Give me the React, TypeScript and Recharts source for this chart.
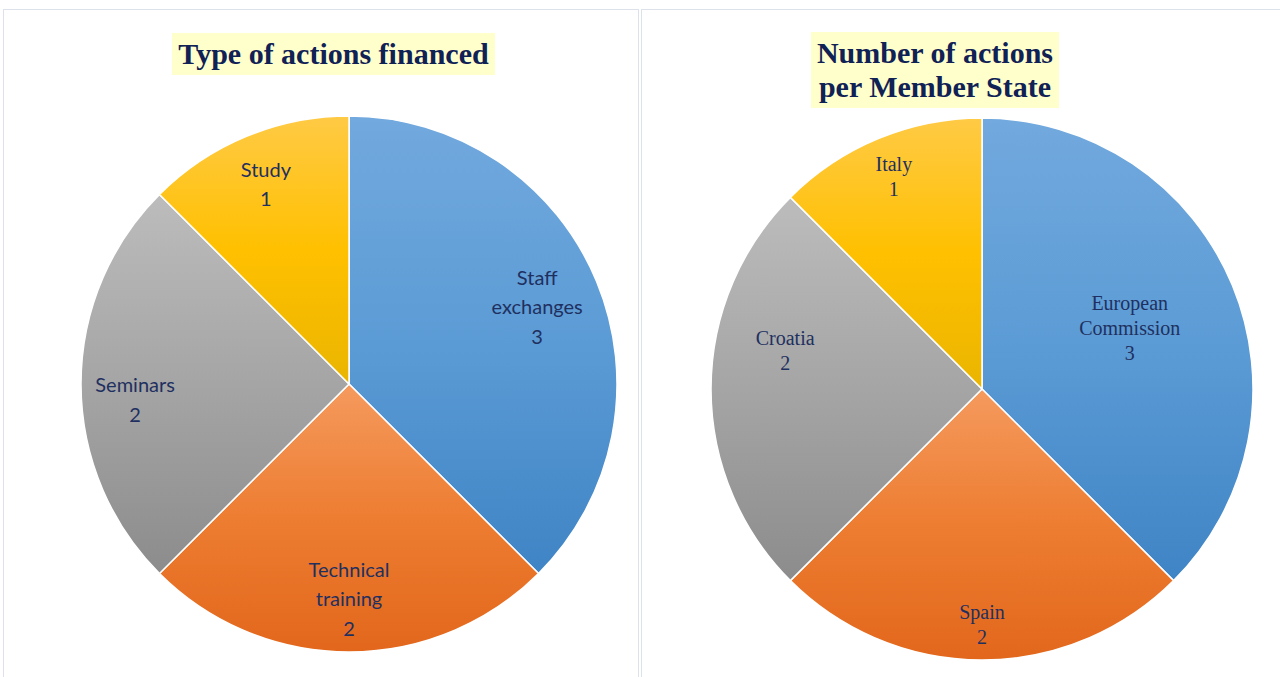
import { PieChart, Pie, Cell } from "recharts"

const actionTypes = ["Staff exchanges", "Technical training", "Seminars", "Study"]
const actionCounts = [3, 2, 2, 1]

const memberStates = ["European Commission", "Spain", "Croatia", "Italy"]
const memberCounts = [3, 2, 2, 1]

const typeData = actionTypes.map((name, i) => ({ name, value: actionCounts[i] }))
const stateData = memberStates.map((name, i) => ({ name, value: memberCounts[i] }))

// light / base / dark stops, like the office gradient fill
const gradients = [
  { id: "blue", stops: ["#72a9de", "#5b9bd5", "#3f84c5"] },
  { id: "orange", stops: ["#f59a5e", "#ed7d31", "#e2671c"] },
  { id: "gray", stops: ["#bcbcbc", "#a5a5a5", "#8c8c8c"] },
  { id: "yellow", stops: ["#ffca45", "#ffc000", "#eab500"] },
]

const RADIAN = Math.PI / 180
const labelColor = "#1f3060"

function Gradients({ prefix }: { prefix: string }) {
  return (
    <defs>
      {gradients.map((g) => (
        <linearGradient key={g.id} id={`${prefix}-${g.id}`} x1="0" y1="0" x2="0" y2="1">
          <stop offset="0%" stopColor={g.stops[0]} />
          <stop offset="50%" stopColor={g.stops[1]} />
          <stop offset="100%" stopColor={g.stops[2]} />
        </linearGradient>
      ))}
    </defs>
  )
}

function makeLabel(radii: number[], nudges: number[], font: string, size: number, lh: number) {
  return (props: any) => {
    const { cx, cy, midAngle, outerRadius, index, name, value } = props
    const ang = (midAngle + nudges[index]) * RADIAN
    const r = outerRadius * radii[index]
    const x = cx + r * Math.cos(-ang)
    const y = cy + r * Math.sin(-ang)
    const lines = [...String(name).split(" "), String(value)]
    const start = -((lines.length - 1) / 2) * lh
    return (
      <text
        x={x}
        y={y}
        textAnchor="middle"
        dominantBaseline="central"
        fill={labelColor}
        fontFamily={font}
        fontSize={size}
      >
        {lines.map((l, i) => (
          <tspan key={i} x={x} dy={i === 0 ? start : lh}>
            {l}
          </tspan>
        ))}
      </text>
    )
  }
}

const titleStyle: React.CSSProperties = {
  position: "absolute",
  background: "#ffffcc",
  color: "#0f2155",
  fontFamily: "'Liberation Serif', 'Times New Roman', serif",
  fontWeight: "bold",
  fontSize: 30,
  textAlign: "center",
  lineHeight: "34px",
  whiteSpace: "nowrap",
}

export default function App() {
  return (
    <div style={{ position: "absolute", left: 0, top: 0, width: 1280, height: 677, background: "#fff", overflow: "hidden" }}>
      <div style={{ position: "absolute", left: 3, top: 9, width: 634, height: 680, border: "1px solid #dde1e9" }} />
      <div style={{ position: "absolute", left: 641, top: 9, width: 660, height: 680, border: "1px solid #dde1e9" }} />

      <div style={{ position: "absolute", left: 4, top: 10 }}>
        <PieChart width={634} height={667} margin={{ top: 0, right: 0, bottom: 0, left: 0 }}>
          <Gradients prefix="l" />
          <Pie
            data={typeData}
            dataKey="value"
            nameKey="name"
            cx={345}
            cy={374}
            outerRadius={268}
            startAngle={90}
            endAngle={-270}
            stroke="#ffffff"
            strokeWidth={1.5}
            labelLine={false}
            label={makeLabel([0.76, 0.8, 0.8, 0.81], [0, 0, 4, 0], "Lato, 'Open Sans', sans-serif", 20, 29.5)}
            isAnimationActive={false}
          >
            {typeData.map((d, i) => (
              <Cell key={d.name} fill={`url(#l-${gradients[i].id})`} />
            ))}
          </Pie>
        </PieChart>
      </div>

      <div style={{ position: "absolute", left: 642, top: 10 }}>
        <PieChart width={638} height={667} margin={{ top: 0, right: 0, bottom: 0, left: 0 }}>
          <Gradients prefix="r" />
          <Pie
            data={stateData}
            dataKey="value"
            nameKey="name"
            cx={340}
            cy={379}
            outerRadius={271}
            startAngle={90}
            endAngle={-270}
            stroke="#ffffff"
            strokeWidth={1.5}
            labelLine={false}
            label={makeLabel([0.59, 0.87, 0.74, 0.85], [0, 0, -11, 0], "'Liberation Serif', 'Times New Roman', serif", 20, 25)}
            isAnimationActive={false}
          >
            {stateData.map((d, i) => (
              <Cell key={d.name} fill={`url(#r-${gradients[i].id})`} />
            ))}
          </Pie>
        </PieChart>
      </div>

      <div style={{ ...titleStyle, left: 172, top: 33, width: 323, height: 42, lineHeight: "42px" }}>
        Type of actions financed
      </div>
      <div style={{ ...titleStyle, left: 811, top: 32, width: 248, height: 76, paddingTop: 4, boxSizing: "border-box" }}>
        Number of actions
        <br />
        per Member State
      </div>
    </div>
  )
}
